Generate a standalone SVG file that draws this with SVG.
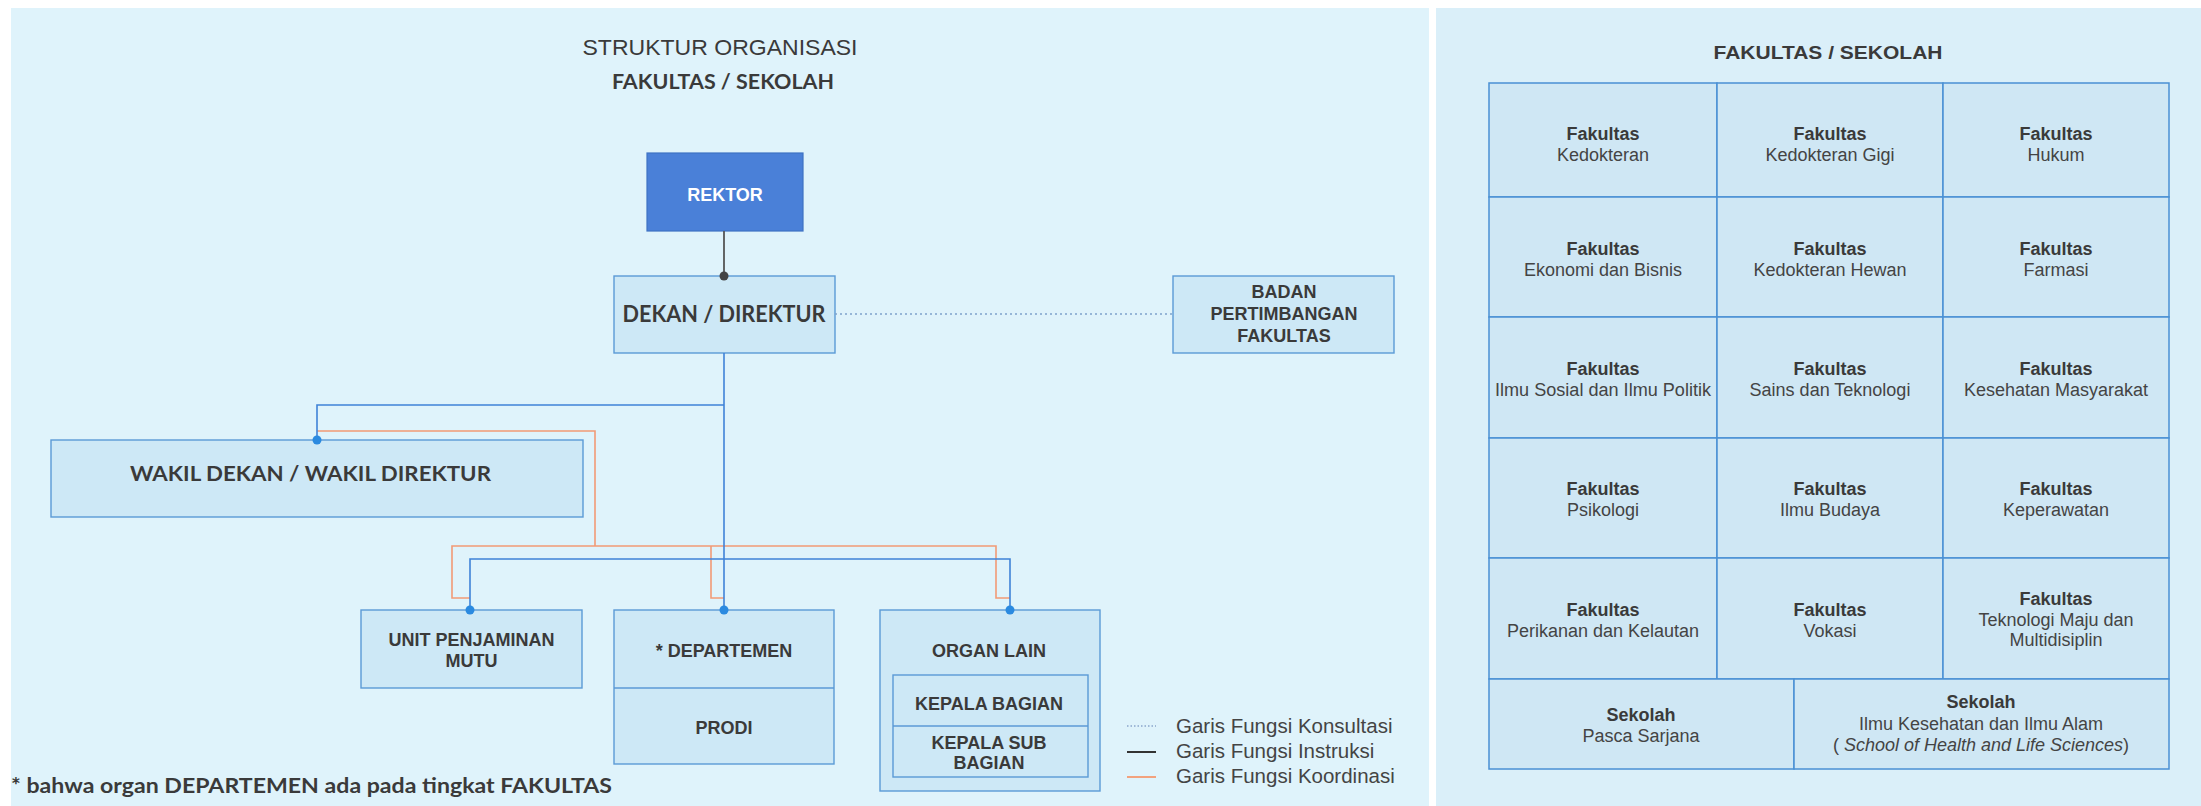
<svg xmlns="http://www.w3.org/2000/svg" width="2201" height="806" viewBox="0 0 2201 806">
<defs>
<style>
.bg{fill:#dff3fb}
.bg2{fill:#daeff9}
.box{fill:#cde8f6;stroke:#5b9ad6;stroke-width:1.4}
.cell{fill:#cfe7f4;stroke:#4a90d4;stroke-width:1.5}
.t{font-family:"Liberation Sans",Arial,sans-serif;font-weight:bold;font-size:18px;fill:#3a3a3a;text-anchor:middle}
.c{font-family:Lato,"Open Sans",sans-serif;font-weight:bold;fill:#3a3a3a;text-anchor:middle}
.fb{font-family:"Liberation Sans",Arial,sans-serif;font-weight:bold;font-size:18px;fill:#3a3a3a;text-anchor:middle}
.fr{font-family:"Liberation Sans",Arial,sans-serif;font-size:18px;fill:#444;text-anchor:middle}
.lg{font-family:"Liberation Sans",Arial,sans-serif;font-size:20.5px;fill:#444}
.blue{fill:none;stroke:#3f82d8;stroke-width:1.6}
.orange{fill:none;stroke:#f29a76;stroke-width:1.6}
.dot{fill:#2b8ae0}
</style>
</defs>
<rect x="0" y="0" width="2201" height="806" fill="#ffffff"/>
<rect class="bg" x="11" y="8" width="1418" height="798"/>
<rect class="bg2" x="1436" y="8" width="765" height="798"/>

<text x="720" y="55" font-family="Liberation Sans,Arial,sans-serif" font-size="22" fill="#3a3a3a" text-anchor="middle" textLength="275" lengthAdjust="spacingAndGlyphs">STRUKTUR ORGANISASI</text>
<text class="c" x="723" y="89" font-size="20" textLength="222" lengthAdjust="spacingAndGlyphs">FAKULTAS / SEKOLAH</text>

<g id="rektor">
<rect x="647" y="153" width="156" height="78" fill="#4a80d8" stroke="#3e72c4" stroke-width="1.2"/>
<text class="t" x="725" y="201" font-size="20" style="fill:#ffffff">REKTOR</text>
</g>

<g id="dekan">
<rect class="box" x="614" y="276" width="221" height="77"/>
<text class="c" x="724" y="322" font-size="22.5" textLength="203" lengthAdjust="spacingAndGlyphs">DEKAN / DIREKTUR</text>
</g>

<g id="badan">
<rect class="box" x="1173" y="276" width="221" height="77"/>
<text class="t" x="1284" y="298" font-size="17">BADAN</text>
<text class="t" x="1284" y="320" font-size="17">PERTIMBANGAN</text>
<text class="t" x="1284" y="342" font-size="17">FAKULTAS</text>
</g>

<g id="wakil">
<rect class="box" x="51" y="440" width="532" height="77"/>
<text class="c" x="310.5" y="481" font-size="21" textLength="361" lengthAdjust="spacingAndGlyphs">WAKIL DEKAN / WAKIL DIREKTUR</text>
</g>

<g id="unit">
<rect class="box" x="361" y="610" width="221" height="78"/>
<text class="t" x="471.5" y="646">UNIT PENJAMINAN</text>
<text class="t" x="471.5" y="667">MUTU</text>
</g>

<g id="departemen">
<rect class="box" x="614" y="610" width="220" height="154"/>
<line x1="614" y1="688" x2="834" y2="688" stroke="#5b9ad6" stroke-width="1.4"/>
<text class="t" x="724" y="657">* DEPARTEMEN</text>
<text class="t" x="724" y="734">PRODI</text>
</g>

<g id="organ">
<rect class="box" x="880" y="610" width="220" height="181"/>
<rect class="box" x="893" y="675" width="195" height="102"/>
<line x1="893" y1="726" x2="1088" y2="726" stroke="#5b9ad6" stroke-width="1.4"/>
<text class="t" x="989" y="657">ORGAN LAIN</text>
<text class="t" x="989" y="710">KEPALA BAGIAN</text>
<text class="t" x="989" y="749">KEPALA SUB</text>
<text class="t" x="989" y="769">BAGIAN</text>
</g>

<g id="connectors">
<line x1="724" y1="231" x2="724" y2="276" stroke="#555" stroke-width="1.8"/>
<circle cx="724" cy="276" r="4.5" fill="#444"/>
<line x1="835" y1="314" x2="1173" y2="314" stroke="#7fa2cc" stroke-width="1.6" stroke-dasharray="2 3"/>
<polyline class="orange" points="317,431 595,431 595,546"/>
<polyline class="orange" points="470,598 452,598 452,546 996,546 996,598 1010,598"/>
<polyline class="orange" points="711,546 711,598 724,598"/>
<line class="blue" x1="724" y1="353" x2="724" y2="610"/>
<polyline class="blue" points="724,405 317,405 317,440"/>
<polyline class="blue" points="470,610 470,559 1010,559 1010,610"/>
<circle class="dot" cx="317" cy="440" r="4.5"/>
<circle class="dot" cx="470" cy="610" r="4.5"/>
<circle class="dot" cx="724" cy="610" r="4.5"/>
<circle class="dot" cx="1010" cy="610" r="4.5"/>
</g>

<g id="legend">
<line x1="1127" y1="726" x2="1156" y2="726" stroke="#8aa6cc" stroke-width="1.5" stroke-dasharray="1.5 2"/>
<line x1="1127" y1="752" x2="1156" y2="752" stroke="#333" stroke-width="2"/>
<line x1="1127" y1="777" x2="1156" y2="777" stroke="#f2a27e" stroke-width="2"/>
<text class="lg" x="1176" y="733">Garis Fungsi Konsultasi</text>
<text class="lg" x="1176" y="758">Garis Fungsi Instruksi</text>
<text class="lg" x="1176" y="783">Garis Fungsi Koordinasi</text>
</g>

<text class="c" x="11" y="793" font-size="20" style="text-anchor:start" textLength="601" lengthAdjust="spacingAndGlyphs">* bahwa organ DEPARTEMEN ada pada tingkat FAKULTAS</text>

<text class="t" x="1828" y="59" font-size="21" textLength="229" lengthAdjust="spacingAndGlyphs">FAKULTAS / SEKOLAH</text>

<g id="f-kedokteran"><rect class="cell" x="1489" y="83" width="228" height="114"/><text class="fb" x="1603" y="140">Fakultas</text><text class="fr" x="1603" y="161">Kedokteran</text></g>
<g id="f-kg"><rect class="cell" x="1717" y="83" width="226" height="114"/><text class="fb" x="1830" y="140">Fakultas</text><text class="fr" x="1830" y="161">Kedokteran Gigi</text></g>
<g id="f-hukum"><rect class="cell" x="1943" y="83" width="226" height="114"/><text class="fb" x="2056" y="140">Fakultas</text><text class="fr" x="2056" y="161">Hukum</text></g>

<g id="f-ekonomi"><rect class="cell" x="1489" y="197" width="228" height="120"/><text class="fb" x="1603" y="255">Fakultas</text><text class="fr" x="1603" y="276">Ekonomi dan Bisnis</text></g>
<g id="f-kh"><rect class="cell" x="1717" y="197" width="226" height="120"/><text class="fb" x="1830" y="255">Fakultas</text><text class="fr" x="1830" y="276">Kedokteran Hewan</text></g>
<g id="f-farmasi"><rect class="cell" x="1943" y="197" width="226" height="120"/><text class="fb" x="2056" y="255">Fakultas</text><text class="fr" x="2056" y="276">Farmasi</text></g>

<g id="f-isip"><rect class="cell" x="1489" y="317" width="228" height="121"/><text class="fb" x="1603" y="375">Fakultas</text><text class="fr" x="1603" y="396" textLength="216" lengthAdjust="spacingAndGlyphs">Ilmu Sosial dan Ilmu Politik</text></g>
<g id="f-st"><rect class="cell" x="1717" y="317" width="226" height="121"/><text class="fb" x="1830" y="375">Fakultas</text><text class="fr" x="1830" y="396">Sains dan Teknologi</text></g>
<g id="f-km"><rect class="cell" x="1943" y="317" width="226" height="121"/><text class="fb" x="2056" y="375">Fakultas</text><text class="fr" x="2056" y="396">Kesehatan Masyarakat</text></g>

<g id="f-psikologi"><rect class="cell" x="1489" y="438" width="228" height="120"/><text class="fb" x="1603" y="495">Fakultas</text><text class="fr" x="1603" y="516">Psikologi</text></g>
<g id="f-ib"><rect class="cell" x="1717" y="438" width="226" height="120"/><text class="fb" x="1830" y="495">Fakultas</text><text class="fr" x="1830" y="516">Ilmu Budaya</text></g>
<g id="f-kep"><rect class="cell" x="1943" y="438" width="226" height="120"/><text class="fb" x="2056" y="495">Fakultas</text><text class="fr" x="2056" y="516">Keperawatan</text></g>

<g id="f-pk"><rect class="cell" x="1489" y="558" width="228" height="121"/><text class="fb" x="1603" y="616">Fakultas</text><text class="fr" x="1603" y="637">Perikanan dan Kelautan</text></g>
<g id="f-vokasi"><rect class="cell" x="1717" y="558" width="226" height="121"/><text class="fb" x="1830" y="616">Fakultas</text><text class="fr" x="1830" y="637">Vokasi</text></g>
<g id="f-tmm"><rect class="cell" x="1943" y="558" width="226" height="121"/><text class="fb" x="2056" y="605">Fakultas</text><text class="fr" x="2056" y="626">Teknologi Maju dan</text><text class="fr" x="2056" y="646">Multidisiplin</text></g>

<g id="s-ps"><rect class="cell" x="1489" y="679" width="305" height="90"/><text class="fb" x="1641" y="721">Sekolah</text><text class="fr" x="1641" y="742">Pasca Sarjana</text></g>
<g id="s-ikia"><rect class="cell" x="1794" y="679" width="375" height="90"/><text class="fb" x="1981" y="708">Sekolah</text><text class="fr" x="1981" y="730">Ilmu Kesehatan dan Ilmu Alam</text><text class="fr" x="1981" y="751">( <tspan font-style="italic">School of Health and Life Sciences</tspan>)</text></g>
</svg>
